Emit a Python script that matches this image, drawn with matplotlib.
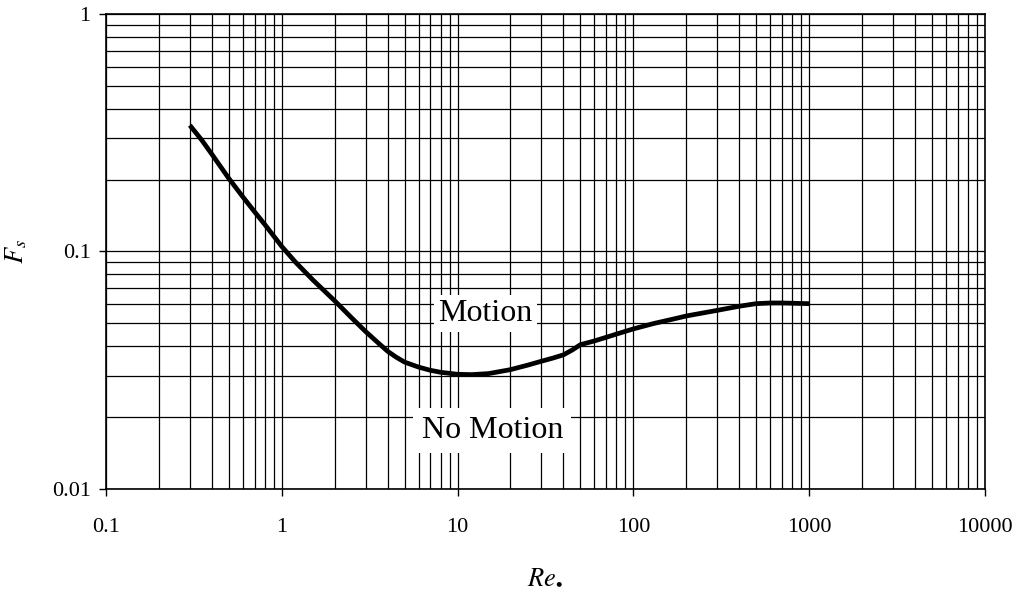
import matplotlib
matplotlib.use("Agg")
import matplotlib.pyplot as plt
from matplotlib.ticker import LogLocator, FuncFormatter, NullFormatter

# Shields curve
re_star = [0.3, 0.35, 0.4, 0.5, 0.6, 0.7, 0.8, 1.0, 1.2, 1.5, 2.0, 2.5, 3.0, 3.5, 4.0, 4.5,
           5.0, 6.0, 7.0, 8.0, 10.0, 12.0, 15.0, 20.0, 25.0, 30.0, 35.0, 40.0, 45.0, 50.0,
           60.0, 70.0, 85.0, 100.0, 130.0, 170.0, 200.0, 300.0, 400.0, 500.0, 600.0, 700.0, 1000.0]
fs = [0.34, 0.295, 0.257, 0.203, 0.17, 0.147, 0.13, 0.105, 0.09, 0.076, 0.062, 0.0525,
      0.046, 0.0415, 0.038, 0.0358, 0.0342, 0.0326, 0.0316, 0.031, 0.0304, 0.0303, 0.0306,
      0.0318, 0.0332, 0.0345, 0.0356, 0.0367, 0.0385, 0.0405, 0.042, 0.0435, 0.0455, 0.0472,
      0.0497, 0.052, 0.0535, 0.0565, 0.0588, 0.0603, 0.0607, 0.0607, 0.0603]

x_ticks = [0.1, 1, 10, 100, 1000, 10000]
y_ticks = [0.01, 0.1, 1]

plt.rcParams['font.family'] = ['Liberation Serif', 'DejaVu Serif']
plt.rcParams['mathtext.fontset'] = 'stix'

fig = plt.figure(figsize=(10.22, 5.97), dpi=100)
ax = fig.add_axes([0.1037, 0.181, 0.86, 0.7955])
ax.set_xscale('log')
ax.set_yscale('log')
ax.set_xlim(0.1, 10000)
ax.set_ylim(0.01, 1)

ax.xaxis.set_minor_locator(LogLocator(base=10, subs=range(2, 10)))
ax.yaxis.set_minor_locator(LogLocator(base=10, subs=range(2, 10)))
ax.set_xticks(x_ticks)
ax.set_yticks(y_ticks)
fmt = FuncFormatter(lambda v, p: '%g' % v)
ax.xaxis.set_major_formatter(fmt)
ax.yaxis.set_major_formatter(fmt)
ax.xaxis.set_minor_formatter(NullFormatter())
ax.yaxis.set_minor_formatter(NullFormatter())

ax.grid(True, which='both', color='black', linewidth=0.9)
ax.set_axisbelow(True)
ax.tick_params(which='major', direction='out', length=5, width=1, labelsize=16)
ax.tick_params(which='minor', length=0)
ax.tick_params(axis='x', pad=16)
ax.tick_params(axis='y', pad=6)
for s in ax.spines.values():
    s.set_linewidth(1.2)

ax.plot(re_star, fs, color='black', linewidth=3.4, solid_capstyle='butt', zorder=3)

ax.text(14.4, 0.0547, 'Motion', fontsize=23, ha='center', va='center',
        bbox=dict(facecolor='white', edgecolor='none', pad=3), zorder=4)
ax.text(15.8, 0.0176, 'No Motion', fontsize=23, ha='center', va='center',
        bbox=dict(facecolor='white', edgecolor='none', pad=6), zorder=4)

ax.set_xlabel(r'$Re_{\bullet}$', fontsize=19, labelpad=22)
ax.set_ylabel(r'$F_{s}$', fontsize=19, labelpad=16)

fig.savefig('out.png', dpi=100)
